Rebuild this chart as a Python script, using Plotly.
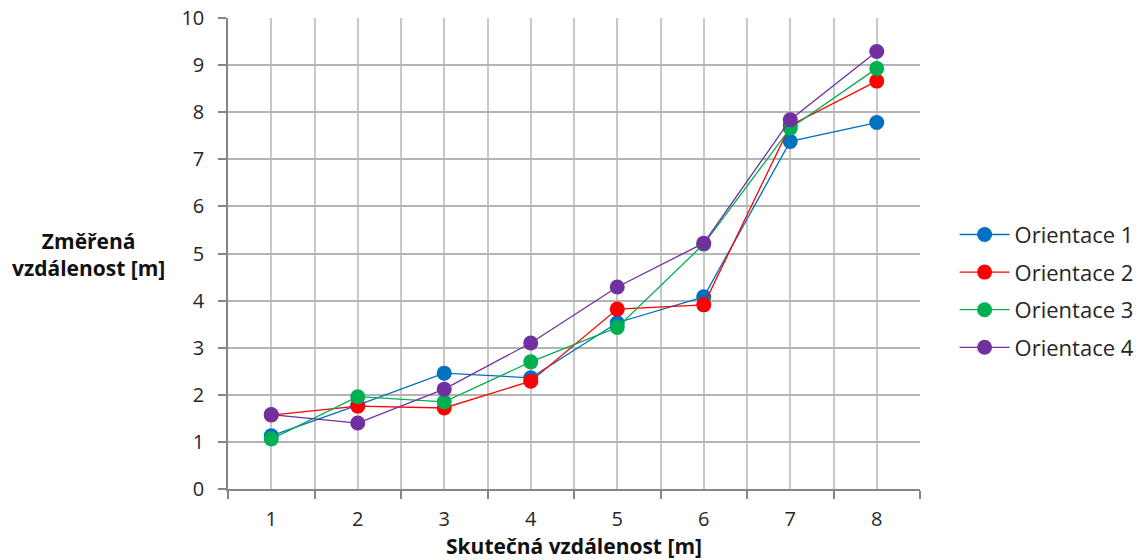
import plotly.graph_objects as go

categories = [1, 2, 3, 4, 5, 6, 7, 8]
orientace_1 = [1.13, 1.78, 2.46, 2.36, 3.53, 4.08, 7.38, 7.78]
orientace_2 = [1.57, 1.76, 1.72, 2.29, 3.82, 3.91, 7.72, 8.66]
orientace_3 = [1.06, 1.96, 1.85, 2.70, 3.43, 5.20, 7.66, 8.93]
orientace_4 = [1.58, 1.40, 2.12, 3.10, 4.29, 5.22, 7.84, 9.29]
series_names = ["Orientace 1", "Orientace 2", "Orientace 3", "Orientace 4"]
y_ticks = list(range(0, 11))

colors = ["#0070C0", "#FF0000", "#00B050", "#7030A0"]
FONT = "Open Sans, Noto Sans, sans-serif"

fig = go.Figure()
for i, (name, vals) in enumerate(zip(series_names, [orientace_1, orientace_2, orientace_3, orientace_4])):
    fig.add_trace(go.Scatter(
        x=categories, y=vals, name=name, mode="lines+markers",
        line=dict(color=colors[i], width=1.3),
        marker=dict(color=colors[i], size=15),
        legendgroup=name,
    ))

fig.update_layout(
    width=1139, height=560,
    margin=dict(l=228, r=219, t=18, b=71, autoexpand=False),
    plot_bgcolor="white", paper_bgcolor="white",
    font=dict(family=FONT, size=20, color="#262626"),
    showlegend=True,
    legend=dict(
        x=1.05, xanchor="left", y=0.42, yanchor="middle",
        traceorder="grouped", tracegroupgap=6,
        font=dict(size=22, color="#262626"),
        itemwidth=50,
    ),
    xaxis=dict(
        range=[0.5, 8.5], tickvals=categories, ticktext=[str(c) for c in categories],
        showgrid=True, gridcolor="#c8c8c8", gridwidth=1.5,
        ticks="", showline=True, linecolor="#868686", linewidth=1.5,
        ticklabelstandoff=11, zeroline=False, automargin=False,
        minor=dict(tick0=0.5, dtick=1, showgrid=True, gridcolor="#c8c8c8", gridwidth=1.5,
                   ticks="outside", ticklen=8, tickcolor="#868686", tickwidth=1.5),
        tickfont=dict(size=20),
    ),
    yaxis=dict(
        range=[0, 10], tickvals=y_ticks,
        showgrid=True, gridcolor="#b4b4b4", gridwidth=1.5,
        ticks="outside", ticklen=8, tickcolor="#868686", tickwidth=1.5,
        showline=True, linecolor="#868686", linewidth=1.5, zeroline=False,
        ticklabelstandoff=10, automargin=False,
        tickfont=dict(size=20),
    ),
)

fig.add_annotation(
    text="<b>Změřená<br>vzdálenost [m]</b>", xref="paper", yref="paper",
    x=-0.202, y=0.497, xanchor="center", yanchor="middle",
    showarrow=False, font=dict(size=21, color="#111111"), align="center",
)
fig.add_annotation(
    text="<b>Skutečná vzdálenost [m]</b>", xref="paper", yref="paper",
    x=0.5, y=-0.122, xanchor="center", yanchor="middle",
    showarrow=False, font=dict(size=21, color="#111111"),
)

fig.write_html("out.html", config={"displayModeBar": False},
               post_script="document.body.style.margin='0';")
